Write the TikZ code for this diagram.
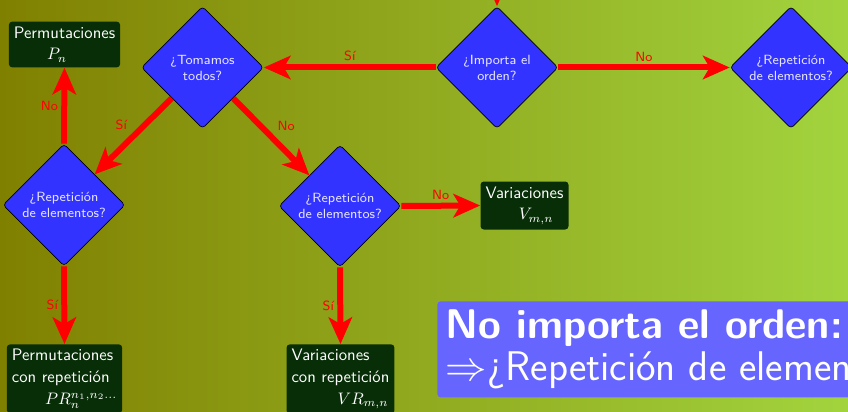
\documentclass[tikz,border=0pt]{standalone}
\usepackage{tikz}
\usetikzlibrary{shapes.geometric}
\usetikzlibrary{arrows.meta}
\definecolor{fondoizq}{RGB}{128,128,0}
\definecolor{fondoder}{RGB}{162,212,62}
\definecolor{rombo}{RGB}{51,51,255}
\definecolor{caja}{RGB}{8,46,8}
\definecolor{bloque}{RGB}{102,102,255}
\newcommand*{\ancho}{848}
\newcommand*{\alto }{411}
\newcommand*{\lado }{73.2pt}
\tikzset{
  pregunta/.style={diamond, aspect=1, draw=black, fill=rombo, rounded corners=2pt,
    minimum width=\lado, minimum height=\lado, inner sep=0pt, align=center,
    text=blue!10!white, font=\sffamily\fontsize{8}{9.6}\selectfont},
  resultado/.style={fill=caja, rounded corners=2pt, text=white, align=left,
    inner sep=3pt, font=\sffamily\fontsize{10}{13}\selectfont},
  flecha/.style={red, line width=3.6pt, -{Stealth[length=16pt,width=14pt,inset=4pt]}},
  etiq/.style={text=red, font=\sffamily\fontsize{8}{9.6}\selectfont, inner sep=2pt}
}

\begin{document}
\begin{tikzpicture}[font=\sffamily, x=0.6pt, y=-0.6pt]
    \shade [left color=fondoizq, right color=fondoder] (0,0) rectangle (\ancho,\alto);
    \useasboundingbox (0,0) rectangle (\ancho,\alto);
    % preguntas
    \node [pregunta] (importa) at (497,67.5) {¿Importa el\\orden?};
    \node [pregunta] (tomamos) at (202.5,67.5) {¿Tomamos\\todos?};
    \node [pregunta] (repder)  at (791,67.5) {¿Repetición\\de elementos?};
    \node [pregunta] (repizq)  at (64,205) {¿Repetición\\de elementos?};
    \node [pregunta] (repcen)  at (340,206) {¿Repetición\\de elementos?};
    % resultados
    \node [resultado] (perm)    at (64.5,44.5) {Permutaciones\\\qquad$P_n$};
    \node [resultado] (var)     at (524.5,205.5) {Variaciones\\\qquad$V_{m,n}$};
    \node [resultado, anchor=north] (permrep) at (64.5,344) {Permutaciones\\con repetición\\\qquad$PR_n^{n_1,n_2\ldots}$};
    \node [resultado, anchor=north] (varrep)  at (340.5,344) {Variaciones\\con repetición\\\qquad\hspace{7.6pt}$VR_{m,n}$};
    \node [fill=bloque, rounded corners=2pt, text=white, align=left, inner sep=5pt, anchor=north west] (nota) at (437,301)
        {{\fontsize{24.88}{30}\selectfont\bfseries No importa el orden:}\\[2pt]
         {\fontsize{24.88}{30}\selectfont$\Rightarrow$¿Repetición de elementos?}};
    % flechas
    \coordinate (arriba) at (497,-60);
    \draw [flecha] (arriba) -- (importa.north);
    \draw [flecha] (importa.west) -- node [etiq, above] {Sí} (tomamos.east);
    \draw [flecha] (importa.east) -- node [etiq, above] {No} (repder.west);
    \draw [flecha] (tomamos.south west) -- node [etiq, above left] {Sí} (repizq.north east);
    \draw [flecha] (tomamos.south east) -- node [etiq, above right] {No} (repcen.north west);
    \draw [flecha] (repizq.north) -- node [etiq, left] {No} (perm.south);
    \draw [flecha] (repizq.south) -- node [etiq, left] {Sí} (permrep.north);
    \draw [flecha] (repcen.east) -- node [etiq, above] {No} (var.west);
    \draw [flecha] (repcen.south) -- node [etiq, left] {Sí} (varrep.north);
\end{tikzpicture}
\end{document}
